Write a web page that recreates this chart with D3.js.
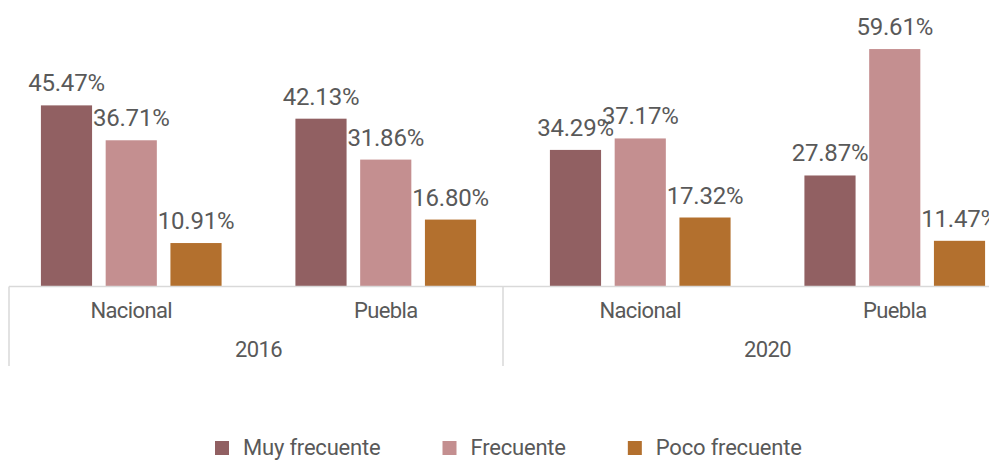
<!DOCTYPE html>
<html>
<head>
<meta charset="utf-8">
<script src="https://cdn.jsdelivr.net/npm/d3@7"></script>
<style>
  body { margin: 0; background: #fff; }
  text { font-family: Roboto, "Noto Sans", sans-serif; fill: #595959; }
</style>
</head>
<body>
<script>
var years = ["2016", "2020"];
var places = ["Nacional", "Puebla"];
var series = ["Muy frecuente", "Frecuente", "Poco frecuente"];
var colors = ["#916062", "#c48f90", "#b3702e"];

// one row per year/place, values in series order
var muy = [45.47, 42.13, 34.29, 27.87];
var frec = [36.71, 31.86, 37.17, 59.61];
var poco = [10.91, 16.80, 17.32, 11.47];

var width = 989, height = 460;
var base = 286.5;

var groups = [];
years.forEach(function(yr) {
    places.forEach(function(p) {
        groups.push({ key: yr + "|" + p, year: yr, place: p });
    });
});
groups.forEach(function(g, i) {
    g.values = [muy[i], frec[i], poco[i]];
});

var x0 = d3.scaleBand()
    .domain(groups.map(d => d.key))
    .range([4, 1022]);

var x1 = d3.scaleBand()
    .domain(series)
    .range([0, x0.bandwidth()])
    .paddingInner(0.21)
    .paddingOuter(0.57);

var xYear = d3.scaleBand()
    .domain(years)
    .range([9, 997]);

var y = d3.scaleLinear()
    .domain([0, 60])
    .range([base, 47.5]);

var color = d3.scaleOrdinal().domain(series).range(colors);

var svg = d3.select("body").append("svg")
    .attr("width", width)
    .attr("height", height);

// bars
var g = svg.selectAll(".group")
    .data(groups)
    .enter()
    .append("g")
    .attr("class", "group")
    .attr("transform", d => "translate(" + x0(d.key) + ",0)");

var cells = g.selectAll(".cell")
    .data(d => d.values.map((v, i) => ({ s: series[i], v: v })))
    .enter();

cells.append("rect")
    .attr("x", d => x1(d.s))
    .attr("y", d => y(d.v))
    .attr("width", x1.bandwidth())
    .attr("height", d => base - y(d.v))
    .style("fill", d => color(d.s));

cells.append("text")
    .attr("x", d => x1(d.s) + x1.bandwidth() / 2)
    .attr("y", d => y(d.v) - 14)
    .attr("text-anchor", "middle")
    .style("font-size", "24px")
    .style("letter-spacing", "-0.2px")
    .text(d => d.v.toFixed(2) + "%");

// axis lines
svg.append("line")
    .attr("x1", 9).attr("x2", width)
    .attr("y1", base).attr("y2", base)
    .style("stroke", "#d9d9d9").style("stroke-width", 1.5);

svg.selectAll(".sep")
    .data(years)
    .enter()
    .append("line")
    .attr("x1", d => xYear(d)).attr("x2", d => xYear(d))
    .attr("y1", base).attr("y2", 366)
    .style("stroke", "#d9d9d9").style("stroke-width", 1.5);

// category labels
svg.selectAll(".cat")
    .data(groups)
    .enter()
    .append("text")
    .attr("x", d => x0(d.key) + x0.bandwidth() / 2)
    .attr("y", 318)
    .attr("text-anchor", "middle")
    .style("font-size", "22px")
    .style("letter-spacing", "-0.6px")
    .text(d => d.place);

svg.selectAll(".yr")
    .data(years)
    .enter()
    .append("text")
    .attr("x", function(yr) {
        var ks = groups.filter(d => d.year == yr);
        return d3.mean(ks, d => x0(d.key) + x0.bandwidth() / 2);
    })
    .attr("y", 357)
    .attr("text-anchor", "middle")
    .style("font-size", "22px")
    .style("letter-spacing", "-0.6px")
    .text(d => d);

// legend
var legend = svg.append("g");
var lx = 215;
series.forEach(function(s) {
    var item = legend.append("g").attr("transform", "translate(" + lx + ",0)");
    item.append("rect")
        .attr("x", 0).attr("y", 441)
        .attr("width", 14).attr("height", 14)
        .style("fill", color(s));
    var t = item.append("text")
        .attr("x", 28).attr("y", 455)
        .style("font-size", "22px")
        .style("letter-spacing", "-0.2px")
        .text(s);
    lx += 28 + t.node().getComputedTextLength() + 62;
});
</script>
</body>
</html>
